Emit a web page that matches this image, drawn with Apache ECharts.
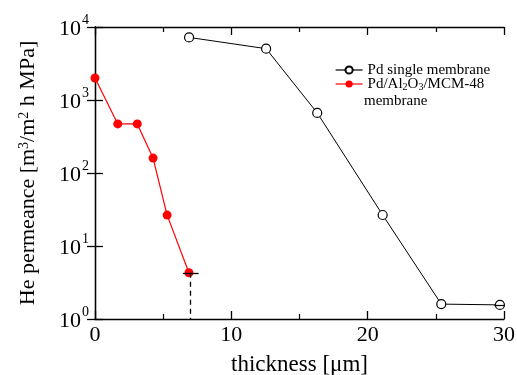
<!DOCTYPE html>
<html>
<head>
<meta charset="utf-8">
<script src="https://cdn.jsdelivr.net/npm/echarts@6/dist/echarts.min.js"></script>
<style>
  html, body { margin: 0; padding: 0; background: #fff; }
  #chart { width: 517px; height: 375px; }
</style>
</head>
<body>
<div id="chart"></div>
<script>
// thickness [μm] vs He permeance
const pdThickness = [6.9, 12.55, 16.3, 21.1, 25.4, 29.7];
const pdPermeance = [7200, 5050, 665, 26.6, 1.6, 1.56];
const mcmThickness = [0, 1.67, 3.1, 4.26, 5.29, 6.89];
const mcmPermeance = [2000, 470, 470, 160, 26.5, 4.3];
const seriesNames = ["Pd single membrane", "Pd/Al2O3/MCM-48"];
// marker on the last MCM-48 point (dashed drop line + short bar)
const dropX = 7.0;

const font = "'Liberation Serif', 'DejaVu Serif', serif";
const black = "#000";

const toPairs = (xs, ys) => xs.map((x, i) => [x, ys[i]]);

// 共用轴样式
const baseX = (position, showLabel) => ({
  type: "value",
  position,
  min: 0,
  max: 30,
  interval: 10,
  axisLine: { show: true, lineStyle: { color: black, width: 1.3 } },
  axisTick: { show: true, inside: true, length: 8, lineStyle: { color: black, width: 1.3 } },
  minorTick: { show: true, splitNumber: 2, length: 5, lineStyle: { color: black, width: 1.2 } },
  splitLine: { show: false },
  minorSplitLine: { show: false },
  axisLabel: { show: showLabel, color: black, fontFamily: font, fontSize: 22, margin: 5 }
});
const baseY = (position, showLabel) => ({
  type: "log",
  logBase: 10,
  position,
  min: 1,
  max: 10000,
  axisLine: { show: true, lineStyle: { color: black, width: 1.3 } },
  axisTick: { show: true, inside: true, length: 8, lineStyle: { color: black, width: 1.3 } },
  minorTick: { show: false },
  splitLine: { show: false },
  axisLabel: {
    show: showLabel,
    margin: 6,
    formatter: v => `{b|10}{sup|${Math.round(Math.log10(v))}}`,
    rich: {
      b: { fontFamily: font, fontSize: 22, color: black, padding: [5, 0, 0, 0] },
      sup: { fontFamily: font, fontSize: 14, color: black, verticalAlign: "top", padding: [0, 0, 0, 1] }
    }
  }
});

const chart = echarts.init(document.getElementById("chart"));
chart.setOption({
  backgroundColor: "#fff",
  animation: false,
  grid: { left: 95, right: 13, top: 27, bottom: 56, outerBoundsMode: "none" },
  xAxis: [
    {
      ...baseX("bottom", true),
      name: "thickness [μm]",
      nameLocation: "middle",
      nameGap: 34,
      nameTextStyle: { fontFamily: font, fontSize: 23, color: black }
    },
    baseX("top", false)
  ],
  yAxis: [
    {
      ...baseY("left", true),
      name: "He permeance [m{sup|3}/m{sup|2} h MPa]",
      nameLocation: "middle",
      nameGap: 56,
      nameTextStyle: {
        fontFamily: font,
        fontSize: 22,
        color: black,
        rich: {
          sup: { fontFamily: font, fontSize: 14, color: black, verticalAlign: "top" }
        }
      }
    },
    baseY("right", false)
  ],
  legend: {
    orient: "vertical",
    left: 330,
    top: 57,
    itemGap: -2,
    itemWidth: 27,
    itemHeight: 9,
    data: seriesNames,
    lineStyle: { width: 1.2 },
    formatter: name => name === seriesNames[1] ? "Pd/Al{sub|2}O{sub|3}/MCM-48" : name,
    textStyle: {
      fontFamily: font,
      fontSize: 15,
      lineHeight: 16,
      color: black,
      rich: {
        sub: { fontFamily: font, fontSize: 10, lineHeight: 10, color: black, verticalAlign: "bottom" }
      }
    }
  },
  graphic: [
    {
      type: "text",
      left: 364,
      top: 94,
      style: { text: "membrane", font: `15px ${font}`, fill: black }
    }
  ],
  series: [
    {
      name: seriesNames[0],
      type: "line",
      data: toPairs(pdThickness, pdPermeance),
      symbol: "circle",
      symbolSize: 9,
      lineStyle: { color: black, width: 1 },
      itemStyle: { color: "#fff", borderColor: black, borderWidth: 1.2 },
      markLine: {
        silent: true,
        symbol: ["none", "none"],
        label: { show: false },
        lineStyle: { color: black, width: 1.2, type: "solid" },
        data: [
          [{ coord: [29.3, pdPermeance[5]] }, { coord: [30, pdPermeance[5]] }]
        ]
      },
      z: 3
    },
    {
      name: seriesNames[1],
      type: "line",
      data: toPairs(mcmThickness, mcmPermeance),
      symbol: "circle",
      symbolSize: 9,
      color: "#ff0000",
      lineStyle: { color: "#ff0000", width: 1.2 },
      itemStyle: { color: "#ff0000" },
      markLine: {
        silent: true,
        symbol: ["none", "none"],
        label: { show: false },
        data: [
          [
            { coord: [dropX, mcmPermeance[5]], lineStyle: { color: black, width: 1.3, type: [5, 4] } },
            { coord: [dropX, 1] }
          ],
          [
            { coord: [dropX - 0.55, mcmPermeance[5]], lineStyle: { color: black, width: 1.3, type: "solid" } },
            { coord: [dropX + 0.6, mcmPermeance[5]] }
          ]
        ]
      },
      z: 4
    }
  ]
});
</script>
</body>
</html>
